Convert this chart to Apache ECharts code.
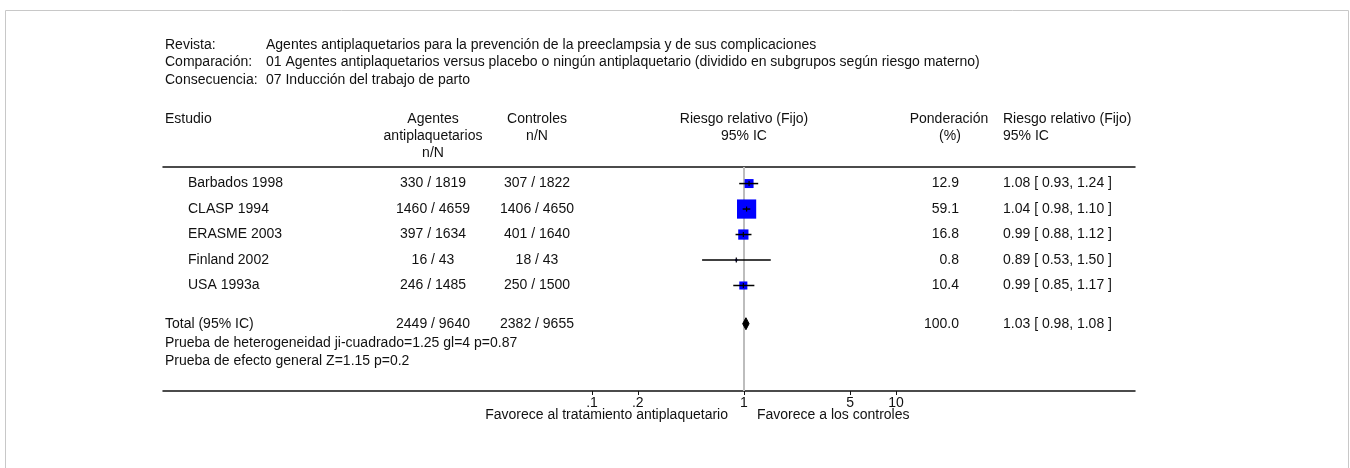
<!DOCTYPE html>
<html>
<head>
<meta charset="utf-8">
<script src="https://cdn.jsdelivr.net/npm/echarts@6/dist/echarts.min.js"></script>
<style>
  html, body { margin: 0; padding: 0; background: #fff; }
  #chart { width: 1350px; height: 468px; }
</style>
</head>
<body>
<div id="chart"></div>
<script>
// ---------------- DATA ----------------
const studies      = ['Barbados 1998', 'CLASP 1994', 'ERASME 2003', 'Finland 2002', 'USA 1993a'];
const treatEvents  = [330, 1460, 397, 16, 246];
const treatTotals  = [1819, 4659, 1634, 43, 1485];
const ctrlEvents   = [307, 1406, 401, 18, 250];
const ctrlTotals   = [1822, 4650, 1640, 43, 1500];
const weights      = [12.9, 59.1, 16.8, 0.8, 10.4];
const rr           = [1.08, 1.04, 0.99, 0.89, 0.99];
const ciLow        = [0.93, 0.98, 0.88, 0.53, 0.85];
const ciHigh       = [1.24, 1.10, 1.12, 1.50, 1.17];
const totalLabel   = 'Total (95% IC)';
const totalTreat   = [2449, 9640];
const totalCtrl    = [2382, 9655];
const totalWeight  = 100.0;
const totalRR      = [1.03, 0.98, 1.08];   // estimate, low, high
const tickValues   = [0.1, 0.2, 1, 5, 10];
const tickLabels   = ['.1', '.2', '1', '5', '10'];
const heterogeneityText = 'Prueba de heterogeneidad ji-cuadrado=1.25 gl=4 p=0.87';
const effectText        = 'Prueba de efecto general Z=1.15 p=0.2';
const headerLabels = ['Revista:', 'Comparación:', 'Consecuencia:'];
const headerValues = [
  'Agentes antiplaquetarios para la prevención de la preeclampsia y de sus complicaciones',
  '01 Agentes antiplaquetarios versus placebo o ningún antiplaquetario (dividido en subgrupos según riesgo materno)',
  '07 Inducción del trabajo de parto'
];
const favorLeft  = 'Favorece al tratamiento antiplaquetario';
const favorRight = 'Favorece a los controles';

// ---------------- LAYOUT ----------------
const FONT_FAMILY = '"Liberation Sans", Arial, sans-serif';
const FS = 14;
const FONT = FS + 'px ' + FONT_FAMILY;
const TXT = '#111';
const ROW_MIN = -0.65, ROW_MAX = 8.14;   // row units (y axis, inverted)
const TOTAL_ROW = 5.5;
const COLS = {
  study:  { x: 188 },
  treat:  { x: 433 },
  ctrl:   { x: 537 },
  weight: { x: 959 },
  ci:     { x: 1003 }
};
const PX_PER_DEC = 152, X_ONE = 744, AX_L = 163, AX_R = 1135;
const LOG_MIN = Math.pow(10, -(X_ONE - AX_L) / PX_PER_DEC);
const LOG_MAX = Math.pow(10, (AX_R - X_ONE) / PX_PER_DEC);

const fmt2 = v => v.toFixed(2);
const ciText = (e, l, h) => fmt2(e) + ' [ ' + fmt2(l) + ', ' + fmt2(h) + ' ]';

const tableRows = [];
studies.forEach((s, i) => {
  tableRows.push([COLS.study.x, i, s, 'left']);
  tableRows.push([COLS.treat.x, i, treatEvents[i] + ' / ' + treatTotals[i], 'center']);
  tableRows.push([COLS.ctrl.x, i, ctrlEvents[i] + ' / ' + ctrlTotals[i], 'center']);
  tableRows.push([COLS.weight.x, i, weights[i].toFixed(1), 'right']);
  tableRows.push([COLS.ci.x, i, ciText(rr[i], ciLow[i], ciHigh[i]), 'left']);
});
tableRows.push([165, TOTAL_ROW, totalLabel, 'left']);
tableRows.push([COLS.treat.x, TOTAL_ROW, totalTreat[0] + ' / ' + totalTreat[1], 'center']);
tableRows.push([COLS.ctrl.x, TOTAL_ROW, totalCtrl[0] + ' / ' + totalCtrl[1], 'center']);
tableRows.push([COLS.weight.x, TOTAL_ROW, totalWeight.toFixed(1), 'right']);
tableRows.push([COLS.ci.x, TOTAL_ROW, ciText(totalRR[0], totalRR[1], totalRR[2]), 'left']);
tableRows.push([165, TOTAL_ROW + 0.75, heterogeneityText, 'left']);
tableRows.push([165, TOTAL_ROW + 1.46, effectText, 'left']);

const forestData = studies.map((s, i) => [rr[i], i, ciLow[i], ciHigh[i], weights[i]]);

function txt(x, y, text, align) {
  return { type: 'text', x: x, y: y, silent: true, z: 10,
    style: { text: text, font: FONT, fill: TXT, textAlign: align || 'left', textVerticalAlign: 'middle' } };
}

const graphics = [
  { type: 'rect', z: 0, shape: { x: 5.5, y: 10.5, width: 1343, height: 480 }, style: { fill: 'none', stroke: '#c8c8c8', lineWidth: 1 }, silent: true }
];
headerLabels.forEach((l, i) => {
  graphics.push(txt(165, 45 + i * 17.5, l, 'left'));
  graphics.push(txt(266, 45 + i * 17.5, headerValues[i], 'left'));
});
graphics.push(txt(165, 119, 'Estudio', 'left'));
graphics.push(txt(COLS.treat.x, 119, 'Agentes', 'center'));
graphics.push(txt(COLS.treat.x, 136, 'antiplaquetarios', 'center'));
graphics.push(txt(COLS.treat.x, 153, 'n/N', 'center'));
graphics.push(txt(COLS.ctrl.x, 119, 'Controles', 'center'));
graphics.push(txt(COLS.ctrl.x, 136, 'n/N', 'center'));
graphics.push(txt(X_ONE, 119, 'Riesgo relativo (Fijo)', 'center'));
graphics.push(txt(X_ONE, 136, '95% IC', 'center'));
graphics.push(txt(949, 119, 'Ponderación', 'center'));
graphics.push(txt(950, 136, '(%)', 'center'));
graphics.push(txt(COLS.ci.x, 119, 'Riesgo relativo (Fijo)', 'left'));
graphics.push(txt(COLS.ci.x, 136, '95% IC', 'left'));
graphics.push(txt(728, 415, favorLeft, 'right'));
graphics.push(txt(757, 415, favorRight, 'left'));

const chart = echarts.init(document.getElementById('chart'), null, { renderer: 'canvas' });

const option = {
  animation: false,
  backgroundColor: '#fff',
  grid: [
    { left: AX_L, right: 1350 - AX_R, top: 167, bottom: 468 - 391 },
    { left: 0, right: 0, top: 167, bottom: 468 - 391 }
  ],
  xAxis: [
    {
      type: 'log', gridIndex: 0, min: LOG_MIN, max: LOG_MAX, logBase: 10,
      position: 'bottom',
      axisLine: { show: true, onZero: false, lineStyle: { color: '#111', width: 1.5 } },
      axisTick: { show: true, length: 4, customValues: tickValues, lineStyle: { color: '#111' } },
      axisLabel: {
        show: true, customValues: tickValues, margin: 5,
        color: TXT, fontSize: FS, fontFamily: FONT_FAMILY,
        formatter: function (v) {
          let best = 0, bd = Infinity;
          tickValues.forEach((t, k) => { const d = Math.abs(Math.log(v) - Math.log(t)); if (d < bd) { bd = d; best = k; } });
          return tickLabels[best];
        }
      },
      splitLine: { show: false }, minorTick: { show: false }
    },
    {
      type: 'value', gridIndex: 0, position: 'top', min: 0, max: 1,
      axisLine: { show: true, onZero: false, lineStyle: { color: '#111', width: 1.5 } },
      axisTick: { show: false }, axisLabel: { show: false }, splitLine: { show: false }
    },
    { type: 'value', gridIndex: 1, min: 0, max: 1350, show: false }
  ],
  yAxis: [
    { type: 'value', gridIndex: 0, inverse: true, min: ROW_MIN, max: ROW_MAX, show: false },
    { type: 'value', gridIndex: 1, inverse: true, min: ROW_MIN, max: ROW_MAX, show: false }
  ],
  graphic: graphics,
  series: [
    {
      type: 'scatter', xAxisIndex: 0, yAxisIndex: 0, data: [], silent: true, z: 1,
      markLine: {
        silent: true, symbol: 'none', label: { show: false }, z: 1,
        lineStyle: { color: '#bdbdbd', width: 2, type: 'solid' },
        data: [{ xAxis: 1 }]
      }
    },
    {
      type: 'custom', xAxisIndex: 0, yAxisIndex: 0, silent: true, z: 5,
      data: forestData,
      renderItem: function (params, api) {
        const y = api.value(1);
        const c = api.coord([api.value(0), y]);
        const l = api.coord([api.value(2), y]);
        const h = api.coord([api.value(3), y]);
        const size = Math.max(2, 2.5 * Math.sqrt(api.value(4)));
        return {
          type: 'group',
          children: [
            { type: 'rect', shape: { x: c[0] - size / 2, y: c[1] - size / 2, width: size, height: size },
              style: { fill: '#0000ff' } },
            { type: 'line', shape: { x1: l[0], y1: c[1], x2: h[0], y2: c[1] },
              style: { stroke: '#000', lineWidth: 1.5 } },
            { type: 'line', shape: { x1: c[0], y1: c[1] - 2.5, x2: c[0], y2: c[1] + 2.5 },
              style: { stroke: '#000', lineWidth: 1.2 } }
          ]
        };
      }
    },
    {
      type: 'custom', xAxisIndex: 0, yAxisIndex: 0, silent: true, z: 5,
      data: [[totalRR[0], TOTAL_ROW, totalRR[1], totalRR[2]]],
      renderItem: function (params, api) {
        const y = api.value(1);
        const c = api.coord([api.value(0), y]);
        const l = api.coord([api.value(2), y]);
        const h = api.coord([api.value(3), y]);
        const hh = 6;
        return {
          type: 'polygon',
          shape: { points: [[l[0], c[1]], [c[0], c[1] - hh], [h[0], c[1]], [c[0], c[1] + hh]] },
          style: { fill: '#000', stroke: '#000', lineWidth: 1 }
        };
      }
    },
    {
      type: 'custom', xAxisIndex: 2, yAxisIndex: 1, silent: true, z: 6,
      data: tableRows.map(r => [r[0], r[1]]),
      renderItem: function (params, api) {
        const r = tableRows[params.dataIndex];
        const p = api.coord([api.value(0), api.value(1)]);
        return {
          type: 'text', x: p[0], y: p[1],
          style: { text: r[2], font: FONT, fill: TXT, textAlign: r[3], textVerticalAlign: 'middle' }
        };
      }
    }
  ]
};
chart.setOption(option);
</script>
</body>
</html>
